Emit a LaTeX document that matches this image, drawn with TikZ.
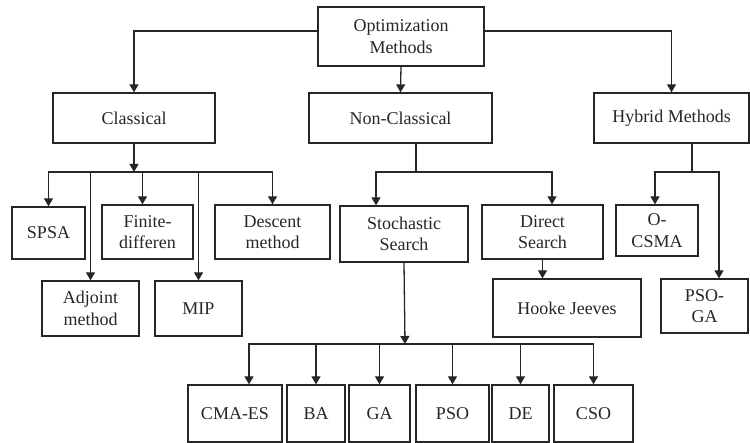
\documentclass[tikz,border=0pt]{standalone}
\usepackage{fontspec}
\setmainfont{Liberation Serif}
\usetikzlibrary{arrows.meta, positioning}

\begin{document}
\begin{tikzpicture}[x=1pt, y=-1pt,
    box/.style={draw=black!85, text=black!85, line width=1.3pt, inner sep=0pt,
        align=center, font=\fontsize{18}{21.5}\selectfont},
    arr/.style={-{Triangle[width=9pt,length=8pt]}, draw=black!85, line width=1.3pt},
    wire/.style={draw=black!85, line width=1.3pt}]
    \useasboundingbox (0,0) rectangle (750,443);

    % levels 1 and 2
    \node[box, minimum width=166pt, minimum height=59pt] (opt) at (401,36.5) {Optimization\\Methods};
    \node[box, minimum width=162pt, minimum height=50pt] (classical) at (134,118) {Classical};
    \node[box, minimum width=183pt, minimum height=50pt] (nonclassical) at (400.5,118) {Non-Classical};
    \node[box, minimum width=155pt, minimum height=50pt] (hybrid) at (671.5,118) {Hybrid Methods};

    % level 3
    \node[box, minimum width=73pt, minimum height=52pt] (spsa) at (48.5,233) {SPSA};
    \node[box, minimum width=91pt, minimum height=54pt] (finite) at (147.5,232) {Finite-\\differen};
    \node[box, minimum width=115pt, minimum height=54pt] (descent) at (272.5,232) {Descent\\method};
    \node[box, minimum width=128pt, minimum height=56pt] (stochastic) at (404,234) {Stochastic\\Search};
    \node[box, minimum width=121pt, minimum height=54pt] (direct) at (542.5,232) {Direct\\Search};
    \node[box, minimum width=82pt, minimum height=51pt] (ocsma) at (657,230.5) {O-\\CSMA};

    \node[box, minimum width=97pt, minimum height=55pt] (adjoint) at (90.5,308.5) {Adjoint\\method};
    \node[box, minimum width=87pt, minimum height=55pt] (mip) at (198.5,308.5) {MIP};
    \node[box, minimum width=148pt, minimum height=58pt] (hooke) at (567,308) {Hooke Jeeves};
    \node[box, minimum width=87pt, minimum height=54pt] (psoga) at (704.5,306) {PSO-\\GA};

    % level 4
    \node[box, minimum width=94pt, minimum height=57pt] (cmaes) at (235,413.5) {CMA-ES};
    \node[box, minimum width=58pt, minimum height=57pt] (ba) at (316,413.5) {BA};
    \node[box, minimum width=61pt, minimum height=57pt] (ga) at (379.5,413.5) {GA};
    \node[box, minimum width=73pt, minimum height=57pt] (pso) at (452.5,413.5) {PSO};
    \node[box, minimum width=57pt, minimum height=57pt] (de) at (520.5,413.5) {DE};
    \node[box, minimum width=79pt, minimum height=57pt] (cso) at (593.5,413.5) {CSO};

    % connectors
    \draw[arr] ([yshift=5.5pt]opt.west) -| (classical.north);
    \draw[arr] ([yshift=5.5pt]opt.east) -| (hybrid.north);
    \draw[arr] (opt.south) -- (nonclassical.north);

    \coordinate (cbus) at (134,172);
    \draw[arr] (classical.south) -- (cbus);
    \draw[arr] (cbus) -| (spsa.north);
    \draw[arr] (cbus) -| ([xshift=-5pt]finite.north);
    \draw[arr] (cbus) -| (descent.north);
    \draw[arr] (cbus) -| (adjoint.north);
    \draw[arr] (cbus) -| (mip.north);

    \coordinate (nbus) at (416,172);
    \draw[wire] (nbus |- nonclassical.south) -- (nbus);
    \draw[arr] (nbus) -| ([xshift=-28pt]stochastic.north);
    \draw[arr] (nbus) -| ([xshift=9.5pt]direct.north);
    \draw[arr] (direct.south) -- (direct.south |- hooke.north);

    \coordinate (hbus) at (692,172);
    \draw[wire] (hbus |- hybrid.south) -- (hbus);
    \draw[arr] (hbus) -| ([xshift=-2pt]ocsma.north);
    \draw[arr] (hbus) -| ([xshift=14.5pt]psoga.north);

    \coordinate (sbus) at (405,344);
    \draw[arr] (stochastic.south) -- (sbus);
    \draw[arr] (sbus) -| ([xshift=14pt]cmaes.north);
    \draw[arr] (sbus) -| (ba.north);
    \draw[arr] (sbus) -| (ga.north);
    \draw[arr] (sbus) -| (pso.north);
    \draw[arr] (sbus) -| (de.north);
    \draw[arr] (sbus) -| (cso.north);
\end{tikzpicture}
\end{document}
